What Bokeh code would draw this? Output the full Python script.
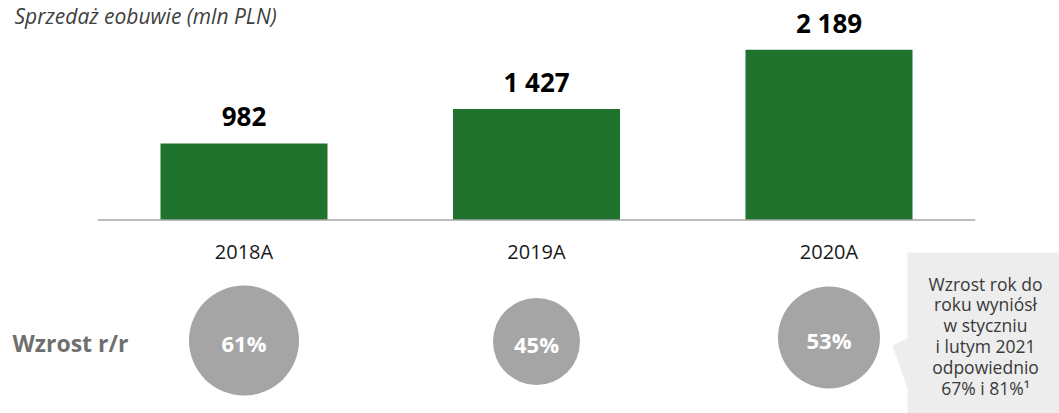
from bokeh.plotting import figure
from bokeh.models import Range1d
from bokeh.core.properties import value
from bokeh.embed import file_html
from bokeh.resources import INLINE

# ---- data ----
years = ["2018A", "2019A", "2020A"]
sales = [982, 1427, 2189]
growth = [61, 45, 53]
title_text = "Sprzedaż eobuwie (mln PLN)"
row_label = "Wzrost r/r"
note_lines = ["Wzrost rok do", "roku wyniósł", "w styczniu",
              "i lutym 2021", "odpowiednio", "67% i 81%\u00b9"]

# ---- layout / style ----
W, H = 1059, 413
PX_PER_UNIT = 0.0778          # screen pixels per mln PLN
BASE_Y = 219.5                # baseline, px from top of figure
CENTER0 = 243.5               # first category centre, px from left of figure
STEP = 292.5                  # px per category
BAR_W = 0.571
circle_radius_px = [55, 43.5, 51]
circle_center_y = [340, 341, 337]
FONT = value("Open Sans")
GREEN = "#1f732d"

idx = list(range(len(years)))
sales_labels = [f"{v:,}".replace(",", " ") for v in sales]
growth_labels = [f"{g}%" for g in growth]

p = figure(width=W, height=H,
           x_range=Range1d(-CENTER0 / STEP, (W - CENTER0) / STEP),
           y_range=Range1d(-(H - BASE_Y) / PX_PER_UNIT, BASE_Y / PX_PER_UNIT),
           x_axis_location=None, y_axis_location=None,
           output_backend="svg", toolbar_location=None, min_border=0,
           tools="")
p.extra_x_ranges = {"px": Range1d(0, W)}
p.extra_y_ranges = {"px": Range1d(H, 0)}
p.grid.visible = False
p.outline_line_color = None
p.background_fill_color = "white"
p.border_fill_color = "white"

# bars
p.vbar(x=idx, top=sales, bottom=0, width=BAR_W, fill_color=GREEN, line_color=None)
# baseline
p.segment(x0=[-0.5], x1=[len(years) - 0.5], y0=[0], y1=[0],
          line_color="#a6a6a6", line_width=1.6)
# value labels
p.text(x=idx, y=sales, text=sales_labels, y_offset=-27,
       text_align="center", text_baseline="middle",
       text_font=FONT, text_font_style="bold", text_font_size="26px",
       text_color="#000000")
# category labels
p.text(x=idx, y=[0] * len(idx), text=years, y_offset=31,
       text_align="center", text_baseline="middle",
       text_font=FONT, text_font_size="20px", text_color="#1a1a1a")

# growth circles
p.circle(x=idx, y=circle_center_y, radius=circle_radius_px, radius_units="screen",
         y_range_name="px", fill_color="#a5a5a5", line_color=None)
p.text(x=idx, y=[c + 2 for c in circle_center_y], text=growth_labels, y_range_name="px",
       text_align="center", text_baseline="middle",
       text_font=FONT, text_font_style="bold", text_font_size="22px",
       text_color="white")

# row label
p.text(x=[12], y=[342], text=[row_label], x_range_name="px", y_range_name="px",
       text_align="left", text_baseline="middle",
       text_font=FONT, text_font_style="bold", text_font_size="23px",
       text_color="#6f6f6f")

# title
p.text(x=[14], y=[15], text=[title_text], x_range_name="px", y_range_name="px",
       text_align="left", text_baseline="middle",
       text_font=FONT, text_font_style="italic", text_font_size="21px",
       text_color="#404040")

# callout
p.patch(x=[907, 1059, 1059, 907, 907, 892, 907],
        y=[252, 252, 413, 413, 388, 345, 338],
        x_range_name="px", y_range_name="px",
        fill_color="#ededed", line_color=None)
p.text(x=[985] * len(note_lines), y=[283 + 20.8 * i for i in range(len(note_lines))],
       text=note_lines, x_range_name="px", y_range_name="px",
       text_align="center", text_baseline="middle",
       text_font=FONT, text_font_size="17.5px", text_color="#3a3a3a")

open("out.html", "w").write(file_html(p, INLINE))
